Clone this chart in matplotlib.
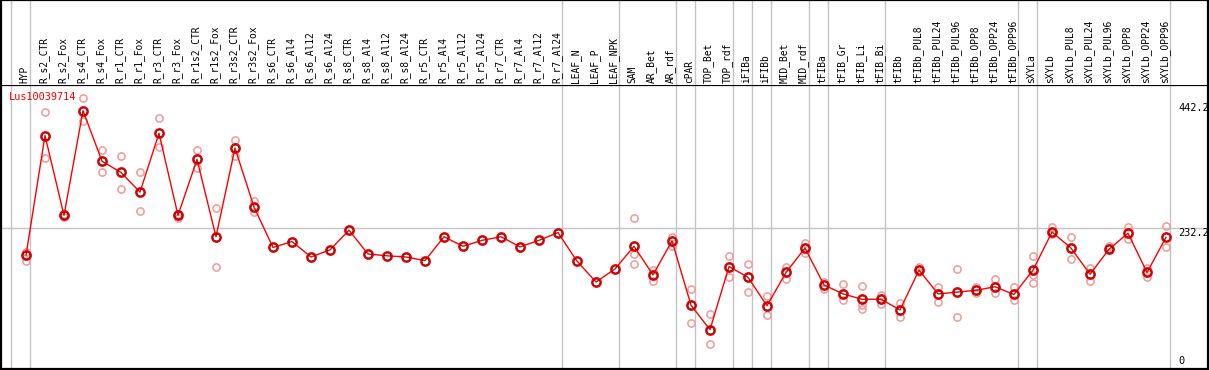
import matplotlib
matplotlib.use('Agg')
import matplotlib.pyplot as plt

# sample names (header)
samples = ['HYP',
           'R_s2_CTR', 'R_s2_Fox', 'R_s4_CTR', 'R_s4_Fox', 'R_r1_CTR', 'R_r1_Fox',
           'R_r3_CTR', 'R_r3_Fox', 'R_r1s2_CTR', 'R_r1s2_Fox', 'R_r3s2_CTR', 'R_r3s2_Fox',
           'R_s6_CTR', 'R_s6_Al4', 'R_s6_Al12', 'R_s6_Al24', 'R_s8_CTR', 'R_s8_Al4',
           'R_s8_Al12', 'R_s8_Al24', 'R_r5_CTR', 'R_r5_Al4', 'R_r5_Al12', 'R_r5_Al24',
           'R_r7_CTR', 'R_r7_Al4', 'R_r7_Al12', 'R_r7_Al24',
           'LEAF_N', 'LEAF_P', 'LEAF_NPK', 'SAM', 'AR_Bet', 'AR_rdf', 'cPAR',
           'TOP_Bet', 'TOP_rdf', 'iFIBa', 'iFIBb', 'MID_Bet', 'MID_rdf', 'tFIBa',
           'tFIB_Gr', 'tFIB_Li', 'tFIB_Bi', 'tFIBb', 'tFIBb_PUL8', 'tFIBb_PUL24',
           'tFIBb_PUL96', 'tFIBb_OPP8', 'tFIBb_OPP24', 'tFIBb_OPP96', 'sXYLa',
           'sXYLb', 'sXYLb_PUL8', 'sXYLb_PUL24', 'sXYLb_PUL96', 'sXYLb_OPP8',
           'sXYLb_OPP24', 'sXYLb_OPP96']

# mean expression per sample
means = [187, 388, 254, 430, 345, 326, 293, 392, 254, 348, 218, 367, 268,
         200, 210, 184, 196, 229, 189, 186, 184, 178, 218, 202, 212, 218, 201, 212, 225,
         177, 142, 164, 202, 154, 211, 103, 62, 168, 150, 102, 158, 199, 137,
         122, 113, 113, 95, 162, 122, 125, 128, 134, 121, 162,
         226, 199, 155, 197, 224, 158, 217]

# replicate values (empty where not visible)
replicates = [[192, 177], [427, 351], [257, 251], [451, 413], [363, 326], [354, 298],
              [326, 261], [417, 369], [256, 250], [363, 333], [267, 167], [380, 354],
              [278, 259],
              [], [], [], [], [], [], [], [], [], [], [], [], [], [], [], [],
              [], [], [],
              [249, 189, 173], [162, 144], [217, 202], [131, 73], [89, 37], [185, 151],
              [172, 126], [118, 86], [168, 147], [207, 191], [142, 131],
              [138, 112], [135, 103, 97], [120, 105], [107, 83], [168, 158], [133, 108],
              [163, 84], [134, 123], [147, 123], [134, 111], [186, 154, 140],
              [234, 223], [217, 180], [166, 143], [202, 199], [235, 215], [166, 151],
              [236, 200]]

# group boundaries: separator after these sample indices
group_ends = [-1, 0, 28, 31, 34, 35, 37, 38, 39, 41, 42, 45, 52, 53, 60]

gene = 'Lus10039714'
ref_ticks = [442.2, 232.2, 0]

W, H = 1209, 370
fig = plt.figure(figsize=(W / 100, H / 100), dpi=100)
mono = 'DejaVu Sans Mono'

x = list(range(len(samples)))
xlim = (-1.316, 62.21)

# plot panel
ax = fig.add_axes([1 / W, 1 / H, 1207 / W, 284 / H])
ax.set_xlim(*xlim)
ax.set_ylim(-4.2, 473)
ax.set_xticks([])
ax.set_yticks([])
for s in ax.spines.values():
    s.set_linewidth(1.6)
    s.set_color('black')

for g in group_ends:
    ax.axvline(g + 0.21, color='#c4c4c4', lw=1, zorder=0)
ax.axhline(232.2, color='#c4c4c4', lw=1, zorder=0)

for i, reps in enumerate(replicates):
    if reps:
        ax.plot([i] * len(reps), reps, 'o', ms=5.2, mfc='none', mec='#f09a9a',
                mew=1.1, zorder=2)

ax.plot(x, means, '-', color='#ff0000', lw=1, zorder=3)
ax.plot(x, means, 'o', ms=6.4, mfc='none', mec='#ee0000', mew=1.4, zorder=4)
ax.plot(x, means, 'o', ms=4.9, mfc='none', mec='#400000', mew=0.5, zorder=5)

ax.text(-0.89, 452.8, gene, color='red', fontsize=7.4, family=mono,
        ha='left', va='center')
for v in ref_ticks:
    if v > 0:
        ax.text(60.63, v, str(v), fontsize=7.4, family=mono, ha='left', va='top')
    else:
        ax.text(60.63, v + 1, str(v), fontsize=7.4, family=mono, ha='left', va='bottom')

# header panel with sample names
hx = fig.add_axes([1 / W, 285 / H, 1207 / W, 85 / H])
hx.set_xlim(*xlim)
hx.set_ylim(85, 0)
hx.set_xticks([])
hx.set_yticks([])
hx.spines['bottom'].set_visible(False)
for k in ['top', 'left', 'right']:
    hx.spines[k].set_linewidth(1.6)
for g in group_ends:
    hx.axvline(g + 0.21, color='#c4c4c4', lw=1, zorder=0)
for i, name in enumerate(samples):
    hx.text(i - 0.08, 83, name, rotation=90, fontsize=6.9, family=mono,
            ha='center', va='bottom')

fig.savefig('out.png', dpi=100)
